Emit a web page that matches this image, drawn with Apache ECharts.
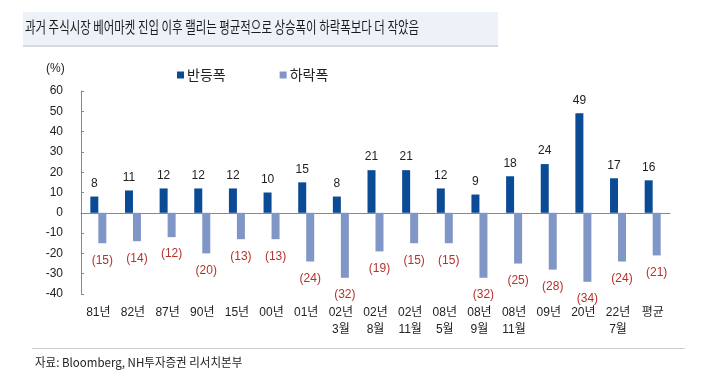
<!DOCTYPE html>
<html><head><meta charset="utf-8">
<script src="https://cdn.jsdelivr.net/npm/echarts@6/dist/echarts.min.js"></script>
<style>html,body{margin:0;padding:0;background:#fff}#c{width:720px;height:371px}</style>
</head><body><div id="c"></div>
<script>
const categories = ['81년','82년','87년','90년','15년','00년','01년','02년\n3월','02년\n8월','02년\n11월','08년\n5월','08년\n9월','08년\n11월','09년','20년','22년\n7월','평균'];
const rebound = [8,11,12,12,12,10,15,8,21,21,12,9,18,24,49,17,16];
const decline = [-15,-14,-12,-20,-13,-13,-24,-32,-19,-15,-15,-32,-25,-28,-34,-24,-21];
const yTicks = [60,50,40,30,20,10,0,-10,-20,-30,-40];
const seriesNames = ['반등폭','하락폭'];
const titleText = '과거 주식시장 베어마켓 진입 이후 랠리는 평균적으로 상승폭이 하락폭보다 더 작았음';
const sourceText = '자료: Bloomberg, NH투자증권 리서치본부';

const font = '"Liberation Sans", Arial, "Noto Sans CJK KR", sans-serif';
const chart = echarts.init(document.getElementById('c'));
chart.setOption({
  animation: false,
  backgroundColor: '#fff',
  textStyle: {fontFamily: font},
  graphic: [
    {type:'rect', shape:{x:23,y:12,width:475,height:33}, style:{fill:'#edf1f8'}},
    {type:'rect', shape:{x:23,y:45,width:475,height:2}, style:{fill:'#d6d9de'}},
    {type:'text', x:25, y:19, scaleX:0.715, style:{text:titleText, font:'16px "Noto Sans CJK KR", sans-serif', fill:'#1a1a1a'}},
    {type:'text', left:46, top:63, style:{text:'(%)', font:'12px '+font, fill:'#222'}},
    {type:'rect', shape:{x:32,y:348,width:653,height:1}, style:{fill:'#cfcfcf'}},
    {type:'text', x:35, y:356, scaleX:0.96, style:{text:sourceText, font:'12px "Noto Sans CJK KR", sans-serif', fill:'#222'}}
  ],
  legend: {
    data: seriesNames, left: 172, top: 63, itemWidth: 7, itemHeight: 7, itemGap: 54,
    icon: 'rect', textStyle: {fontSize: 14, color: '#222', fontFamily: '"Noto Sans CJK KR", sans-serif', padding:[0,0,0,-2]}
  },
  grid: {left: 81, right: 50, top: 91, bottom: 77, containLabel: false},
  xAxis: [
    {type:'category', data: categories, position:'bottom',
     axisLine:{onZero:true, lineStyle:{color:'#888'}},
     axisTick:{inside:true, length:3, lineStyle:{color:'#888'}},
     axisLabel:{show:false}},
    {type:'category', data: categories, position:'bottom',
     axisLine:{show:false, onZero:false}, axisTick:{show:false},
     axisLabel:{color:'#222', fontSize:12, lineHeight:17, margin:10, interval:0, fontFamily: font}}
  ],
  yAxis: {
    type:'value', min:-40, max:60, interval:10,
    axisLine:{show:true, lineStyle:{color:'#888'}},
    axisTick:{show:true, inside:true, length:3, lineStyle:{color:'#888'}},
    splitLine:{show:false},
    axisLabel:{color:'#222', fontSize:12, margin:18, fontFamily: font,
      formatter: v => yTicks.includes(v) ? String(v) : ''}
  },
  series: [
    {name: seriesNames[0], type:'bar', data: rebound, barWidth: 8, barGap: '0%',
     itemStyle:{color:'#0b4a95'},
     label:{show:true, position:'top', distance:7, color:'#222', fontSize:12}},
    {name: seriesNames[1], type:'bar', data: decline, barWidth: 8,
     itemStyle:{color:'#8096c6'},
     label:{show:true, position:'bottom', distance:11, color:'#b5322e', fontSize:12,
       formatter: p => '(' + Math.abs(p.value) + ')'}}
  ]
});
</script></body></html>
